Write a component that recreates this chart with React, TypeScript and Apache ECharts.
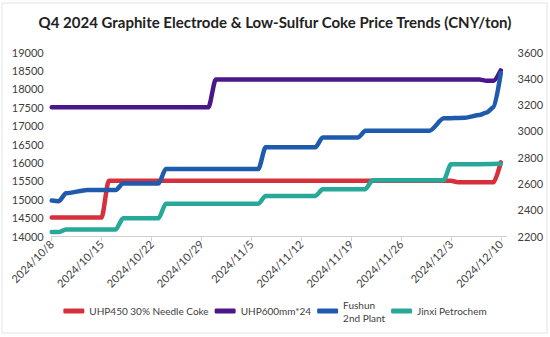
import React, { useEffect, useRef } from "react";
import * as echarts from "echarts";

const titleText = "Q4 2024 Graphite Electrode & Low-Sulfur Coke Price Trends (CNY/ton)";
const startDate = "2024-10-08";
const tickLabels = [
  "2024/10/8", "2024/10/15", "2024/10/22", "2024/10/29", "2024/11/5",
  "2024/11/12", "2024/11/19", "2024/11/26", "2024/12/3", "2024/12/10",
];

const needleCokeName = "UHP450 30% Needle Coke";
const needleCokeDates = ["2024-10-08", "2024-10-15", "2024-10-16", "2024-12-03", "2024-12-04", "2024-12-09", "2024-12-10"];
const needleCokeValues = [14500, 14500, 15500, 15500, 15460, 15460, 16000];

const uhp600Name = "UHP600mm*24";
const uhp600Dates = ["2024-10-08", "2024-10-30", "2024-10-31", "2024-12-07", "2024-12-08", "2024-12-09", "2024-12-10"];
const uhp600Values = [17500, 17500, 18250, 18250, 18220, 18220, 18500];

const fushunName = "Fushun\n2nd Plant";
const fushunDates = [
  "2024-10-08", "2024-10-09", "2024-10-10", "2024-10-13", "2024-10-17", "2024-10-18",
  "2024-10-23", "2024-10-24", "2024-11-06", "2024-11-07", "2024-11-14", "2024-11-15",
  "2024-11-20", "2024-11-21", "2024-11-30", "2024-12-02", "2024-12-05", "2024-12-07",
  "2024-12-08", "2024-12-09", "2024-12-10",
];
const fushunValues = [
  2470, 2465, 2525, 2550, 2550, 2600,
  2600, 2710, 2710, 2875, 2875, 2950,
  2950, 3000, 3000, 3095, 3100, 3120,
  3140, 3180, 3440,
];

const jinxiName = "Jinxi Petrochem";
const jinxiDates = [
  "2024-10-08", "2024-10-09", "2024-10-10", "2024-10-17", "2024-10-18", "2024-10-23",
  "2024-10-24", "2024-11-06", "2024-11-07", "2024-11-14", "2024-11-15", "2024-11-21",
  "2024-11-22", "2024-12-02", "2024-12-03", "2024-12-10",
];
const jinxiValues = [
  2230, 2230, 2250, 2250, 2335, 2335,
  2445, 2445, 2505, 2505, 2555, 2555,
  2625, 2625, 2745, 2750,
];

const DAY = 86400000;
const dayIndex = (s: string) =>
  Math.round((Date.parse(s + "T00:00:00Z") - Date.parse(startDate + "T00:00:00Z")) / DAY);
const pairs = (dates: string[], values: number[]) =>
  dates.map((d, i) => [dayIndex(d), values[i]]);

const FONT = "Lato";

export default function App() {
  const ref = useRef<HTMLDivElement>(null);
  useEffect(() => {
    if (!ref.current) return;
    const chart = echarts.init(ref.current, undefined, { renderer: "svg" });
    const tickValues = tickLabels.map((_, i) => i * 7);
    const mk = (name: string, color: string, data: number[][], yAxisIndex: number) => ({
      name,
      type: "line",
      yAxisIndex,
      data,
      showSymbol: false,
      symbol: "none",
      smooth: 0.25,
      smoothMonotone: "x",
      lineStyle: { color, width: 4.5, cap: "round", join: "round" },
      itemStyle: { color },
    });
    chart.setOption({
      animation: false,
      backgroundColor: "#ffffff",
      graphic: [
        {
          type: "rect",
          shape: { x: 2, y: 3, width: 545, height: 330 },
          style: { fill: "none", stroke: "#e4e4e4", lineWidth: 1 },
          silent: true,
        },
      ],
      title: {
        text: titleText,
        left: "center",
        top: 9,
        textStyle: { fontFamily: FONT, fontSize: 15, fontWeight: "bold", color: "#222222" },
      },
      legend: {
        left: "center",
        top: 293,
        itemWidth: 21,
        itemHeight: 5,
        itemGap: 6,
        icon: "roundRect",
        textStyle: { fontFamily: FONT, fontSize: 10, color: "#404040", lineHeight: 13 },
        data: [needleCokeName, uhp600Name, fushunName, jinxiName],
      },
      grid: { left: 51.7, right: 43.5, top: 52, bottom: 101, containLabel: false },
      xAxis: {
        type: "value",
        min: 0,
        max: 63.8,
        interval: 7,
        axisLine: { show: true, lineStyle: { color: "#d0d0d0", width: 1 } },
        axisTick: { show: true, length: 5, lineStyle: { color: "#d0d0d0" }, customValues: tickValues },
        splitLine: { show: false },
        axisLabel: {
          rotate: 45,
          margin: 6,
          fontFamily: FONT,
          fontSize: 11,
          color: "#404040",
          customValues: tickValues,
          formatter: (v: number) => {
            const i = Math.round(v / 7);
            return Math.abs(v - i * 7) < 0.01 && tickLabels[i] ? tickLabels[i] : "";
          },
        },
      },
      yAxis: [
        {
          type: "value",
          min: 14000,
          max: 19000,
          interval: 500,
          axisLine: { show: false },
          axisTick: { show: false },
          splitLine: { show: false },
          axisLabel: {
            fontFamily: FONT, fontSize: 11, color: "#404040", margin: 8,
            formatter: (v: number) => String(v),
          },
        },
        {
          type: "value",
          min: 2200,
          max: 3600,
          interval: 200,
          position: "right",
          axisLine: { show: false },
          axisTick: { show: false },
          splitLine: { show: false },
          axisLabel: {
            fontFamily: FONT, fontSize: 11, color: "#404040", margin: 11,
            formatter: (v: number) => String(v),
          },
        },
      ],
      series: [
        mk(needleCokeName, "#d5303c", pairs(needleCokeDates, needleCokeValues), 0),
        mk(uhp600Name, "#4a168a", pairs(uhp600Dates, uhp600Values), 0),
        mk(fushunName, "#1f5bad", pairs(fushunDates, fushunValues), 1),
        mk(jinxiName, "#27a898", pairs(jinxiDates, jinxiValues), 1),
      ],
    });
    return () => chart.dispose();
  }, []);
  return (
    <div
      ref={ref}
      style={{ position: "fixed", left: 0, top: 0, width: 550, height: 337, background: "#fff" }}
    />
  );
}
